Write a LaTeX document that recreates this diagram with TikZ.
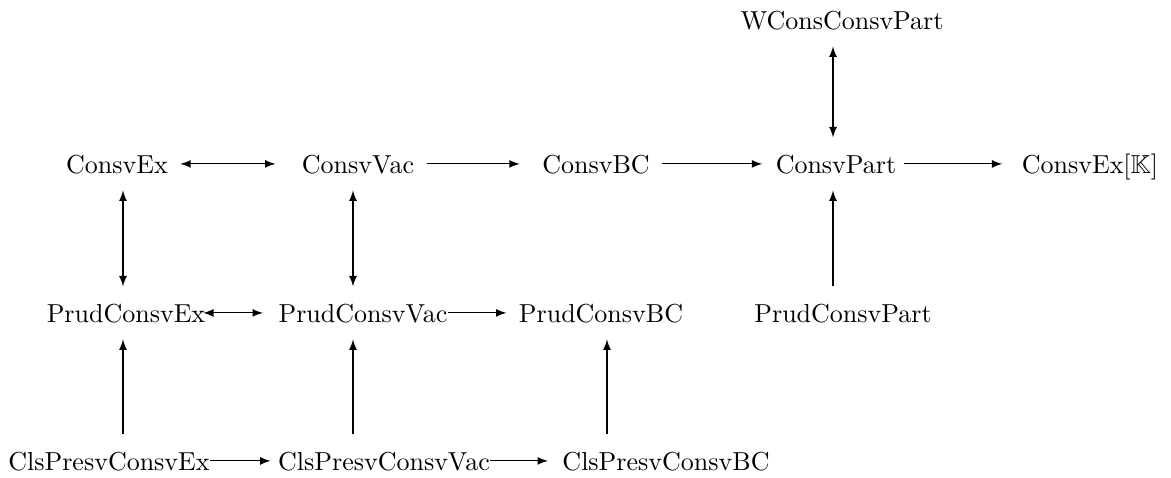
\documentclass[tikz,border=0pt]{standalone}
\usepackage{amsmath}
\usepackage{amssymb}
\usepackage{tikz}

\begin{document}
\begin{tikzpicture}[x=0.3846pt,y=-0.3846pt,
  every node/.style={anchor=base,inner sep=0pt,text height=13.5pt,text depth=6.5pt},
  imp/.style={-latex},
  eqv/.style={latex-latex}]
  \useasboundingbox (0,0) rectangle (1171,477);
  \coordinate (col1) at (123,0);
  \coordinate (col2) at (353,0);
  \coordinate (col3) at (607,0);
  \coordinate (col4) at (833,0);

  \node (wPart) at (842,29) {WConsConsvPart};

  \node (cEx) at (117,173) {ConsvEx};
  \node (cVac) at (358,173) {ConsvVac};
  \node (cBC) at (596,173) {ConsvBC};
  \node (cPart) at (836,173) {ConsvPart};
  \node (cExK) at (1090,173) {ConsvEx[$\mathbb{K}$]};

  \node (pEx) at (126,322) {PrudConsvEx};
  \node (pVac) at (363,322) {PrudConsvVac};
  \node (pBC) at (601,322) {PrudConsvBC};
  \node (pPart) at (843,322) {PrudConsvPart};

  \node (sEx) at (109,470) {ClsPresvConsvEx};
  \node (sVac) at (384,470) {ClsPresvConsvVac};
  \node (sBC) at (666,470) {ClsPresvConsvBC};

  \draw[eqv] (wPart.south -| col4) -- (cPart.north -| col4);

  \draw[eqv,shorten <=4.6pt,shorten >=10pt] (cEx) -- (cVac);
  \draw[imp,shorten <=4.6pt,shorten >=8.5pt] (cVac) -- (cBC);
  \draw[imp,shorten <=4.6pt,shorten >=5pt] (cBC) -- (cPart);
  \draw[imp,shorten <=2.7pt,shorten >=7.3pt] (cPart) -- (cExK);

  \draw[eqv] (cEx.south -| col1) -- (pEx.north -| col1);
  \draw[eqv] (cVac.south -| col2) -- (pVac.north -| col2);
  \draw[imp] (pPart.north -| col4) -- (cPart.south -| col4);

  \draw[eqv,shorten <=-1pt,shorten >=5.8pt] (pEx) -- (pVac);
  \draw[imp,shorten >=4.6pt] (pVac) -- (pBC);

  \draw[imp] (sEx.north -| col1) -- (pEx.south -| col1);
  \draw[imp] (sVac.north -| col2) -- (pVac.south -| col2);
  \draw[imp] (sBC.north -| col3) -- (pBC.south -| col3);

  \draw[imp,shorten >=2.7pt] (sEx) -- (sVac);
  \draw[imp,shorten >=5.4pt] (sVac) -- (sBC);
\end{tikzpicture}
\end{document}
